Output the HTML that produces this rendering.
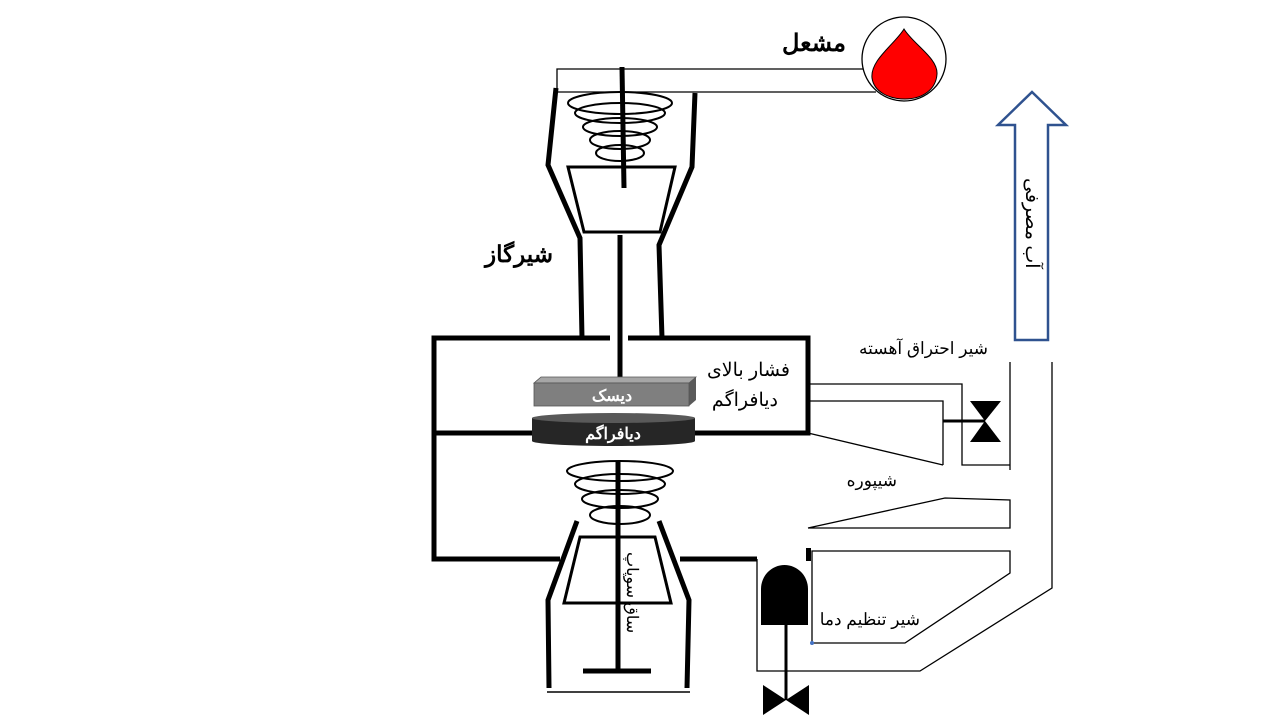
<!DOCTYPE html>
<html><head><meta charset="utf-8"><style>
html,body{margin:0;padding:0;background:#fff;}
svg{display:block;}
text{font-family:"Liberation Sans","Noto Sans CJK SC",sans-serif;}
</style></head><body>
<svg width="1280" height="720" viewBox="0 0 1280 720" xmlns="http://www.w3.org/2000/svg">
<rect width="1280" height="720" fill="#fff"/>
<g fill="none" stroke="#000" stroke-width="1.3">
<polyline points="557,92 557,69 866,69"/>
<line x1="557" y1="92" x2="876" y2="92"/>
</g>
<ellipse cx="904" cy="59" rx="42" ry="42" fill="#fff" stroke="#000" stroke-width="1.3"/>
<path d="M904,29 C895,44 870,60 872,78 C874,92 889,99 905,99 C922,99 936,90 937,74 C938,58 913,44 904,29 Z" fill="#ff0000" stroke="#000" stroke-width="1"/>
<text x="846" y="51" font-size="24" font-weight="bold" text-anchor="end">مشعل</text>
<g fill="none" stroke="#000" stroke-width="5">
<polyline points="556,88 548,165 580,238 582,338"/>
<polyline points="695,93 692,167 659,245 662,338"/>
<line x1="622" y1="67" x2="624" y2="188"/>
<line x1="620" y1="235" x2="620" y2="380"/>
</g>
<polygon points="568,167 675,167 660,232 584,232" fill="none" stroke="#000" stroke-width="3"/>
<g fill="none" stroke="#000" stroke-width="2">
<ellipse cx="620" cy="103" rx="52" ry="11"/>
<ellipse cx="620" cy="113" rx="45" ry="10"/>
<ellipse cx="620" cy="127" rx="37" ry="9"/>
<ellipse cx="620" cy="140" rx="30" ry="9"/>
<ellipse cx="620" cy="153" rx="24" ry="8"/>
</g>
<text x="553" y="262" font-size="23" font-weight="bold" text-anchor="end">شیرگاز</text>
<g fill="none" stroke="#000" stroke-width="5">
<polyline points="610,338 434,338 434,559 560,559"/>
<polyline points="628,338 808,338 808,433 695,433"/>
<line x1="434" y1="433" x2="535" y2="433"/>
<line x1="680" y1="559" x2="757" y2="559"/>
</g>
<polygon points="534,383 541,377 696,377 689,383" fill="#a6a6a6" stroke="#555" stroke-width="0.8"/>
<polygon points="689,383 696,377 696,400 689,406" fill="#5a5a5a"/>
<rect x="534" y="383" width="155" height="23" fill="#7f7f7f" stroke="#555" stroke-width="0.8"/>
<text x="612" y="401" font-size="16" font-weight="bold" fill="#fff" text-anchor="middle">دیسک</text>
<path d="M532,418 L532,441 A81,5 0 0 0 695,441 L695,418 Z" fill="#262626"/>
<ellipse cx="613.5" cy="418" rx="81.5" ry="5" fill="#595959"/>
<text x="613" y="439" font-size="16" font-weight="bold" fill="#fff" text-anchor="middle">دیافراگم</text>
<text x="790" y="376" font-size="19" text-anchor="end">فشار بالای</text>
<text x="778" y="406" font-size="19" text-anchor="end">دیافراگم</text>
<g fill="none" stroke="#000" stroke-width="2">
<ellipse cx="620" cy="471" rx="53" ry="10"/>
<ellipse cx="620" cy="484" rx="45" ry="10"/>
<ellipse cx="620" cy="499" rx="38" ry="9"/>
<ellipse cx="620" cy="515" rx="30" ry="9"/>
</g>
<g fill="none" stroke="#000" stroke-width="5">
<line x1="618" y1="461" x2="618" y2="671"/>
<line x1="583" y1="671" x2="651" y2="671"/>
<polyline points="577,521 548,600 549,688"/>
<polyline points="659,521 689,600 687,688"/>
</g>
<polygon points="580,537 655,537 671,603 564,603" fill="none" stroke="#000" stroke-width="3"/>
<line x1="547" y1="692" x2="690" y2="692" stroke="#000" stroke-width="1.5"/>
<text transform="translate(627,552) rotate(90)" font-size="16">ساق سوپاپ</text>
<polygon points="1032,92 1066,125 1048,125 1048,340 1015,340 1015,125 998,125" fill="#fff" stroke="#2f528f" stroke-width="2.5"/>
<text transform="translate(1026,178) rotate(90)" font-size="19">آب مصرفی</text>
<g fill="none" stroke="#000" stroke-width="1.3">
<polyline points="808,384 962,384 962,465 1010,465"/>
<line x1="1010" y1="362" x2="1010" y2="470"/>
<polyline points="808,401 943,401 943,465"/>
<line x1="808" y1="433" x2="943" y2="465"/>
<polyline points="1052,362 1052,588 920,671 757,671 757,559"/>
<polyline points="808,528 945,498 1010,500 1010,528 808,528"/>
<polyline points="812,643 905,643 1010,573 1010,551 812,551 812,643"/>
</g>
<rect x="806" y="548" width="5" height="13" fill="#000"/>
<circle cx="812" cy="643" r="2" fill="#4472c4"/>
<polygon points="970,401 1001,401 985,421" fill="#000"/>
<polygon points="985,421 970,442 1001,442" fill="#000"/>
<line x1="943" y1="421" x2="985" y2="421" stroke="#000" stroke-width="3"/>
<path d="M761,625 L761,589 A23.5,24 0 0 1 808,589 L808,625 Z" fill="#000"/>
<line x1="786" y1="625" x2="786" y2="700" stroke="#000" stroke-width="3"/>
<polygon points="763,685 763,715 786,700" fill="#000"/>
<polygon points="809,685 809,715 786,700" fill="#000"/>
<text x="988" y="354" font-size="17" text-anchor="end">شیر احتراق آهسته</text>
<text x="897" y="486" font-size="17" text-anchor="end">شیپوره</text>
<text x="920" y="625" font-size="17" text-anchor="end">شیر تنظیم دما</text>
</svg>
</body></html>
